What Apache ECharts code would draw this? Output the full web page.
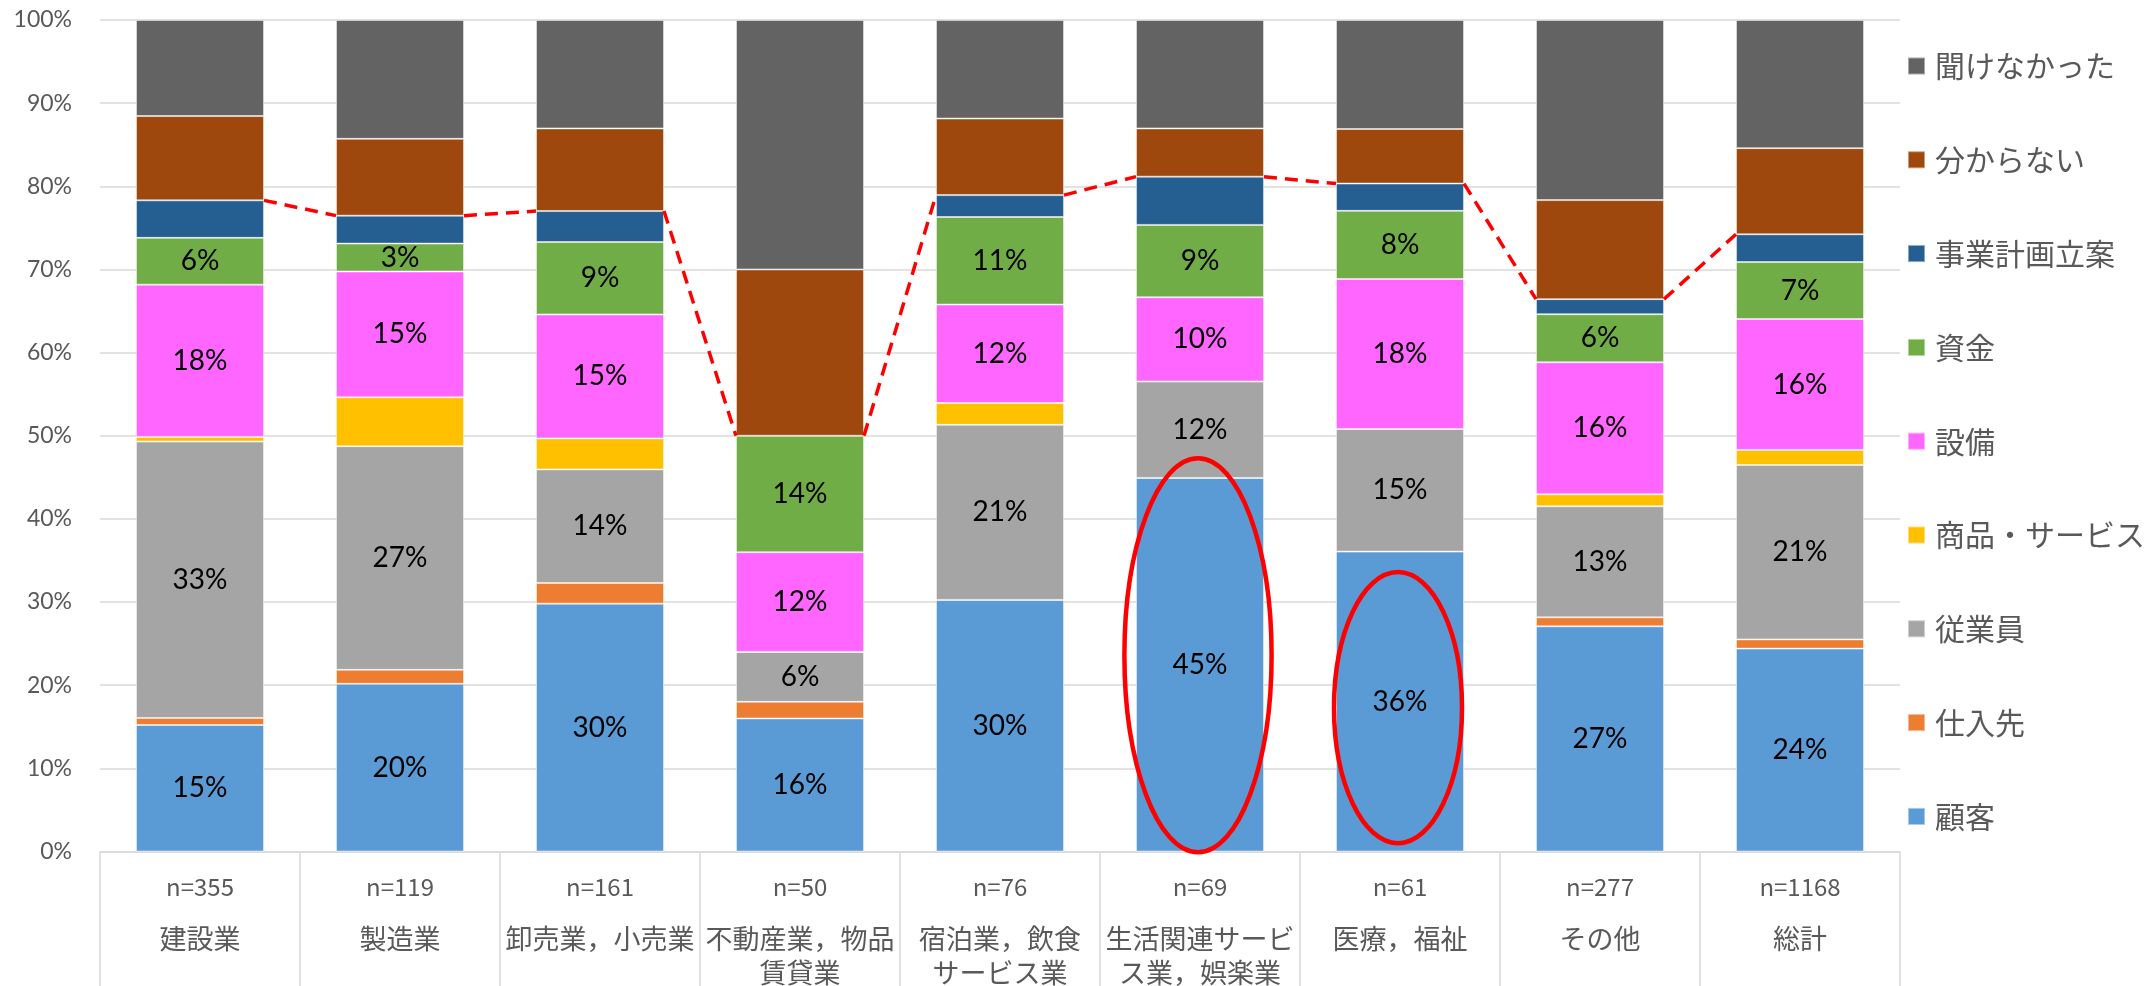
<!DOCTYPE html>
<html>
<head>
<meta charset="utf-8">
<script src="https://cdn.jsdelivr.net/npm/echarts@6/dist/echarts.min.js"></script>
<style>
  html, body { margin: 0; padding: 0; background: #ffffff; }
  #chart { width: 2156px; height: 986px; }
</style>
</head>
<body>
<div id="chart"></div>
<script>
// 業種別の回答内訳（構成比 %）
const categories = ['建設業', '製造業', '卸売業，小売業', '不動産業，物品\n賃貸業', '宿泊業，飲食\nサービス業', '生活関連サービ\nス業，娯楽業', '医療，福祉', 'その他', '総計'];
const sampleSizes = [355, 119, 161, 50, 76, 69, 61, 277, 1168];

const seriesNames = ['顧客', '仕入先', '従業員', '商品・サービス', '設備', '資金', '事業計画立案', '分からない', '聞けなかった'];

const customer   = [15.21, 20.17, 29.81, 16, 30.26, 44.93, 36.07, 27.08, 24.40];
const supplier   = [0.85, 1.68, 2.48, 2, 0, 0, 0, 1.08, 1.11];
const employee   = [33.24, 26.89, 13.66, 6, 21.05, 11.59, 14.75, 13.36, 20.98];
const product    = [0.56, 5.88, 3.73, 0, 2.63, 0, 0, 1.44, 1.80];
const equipment  = [18.31, 15.13, 14.91, 12, 11.84, 10.14, 18.03, 15.88, 15.75];
const funds      = [5.63, 3.36, 8.70, 14, 10.53, 8.70, 8.20, 5.78, 6.85];
const planning   = [4.51, 3.36, 3.73, 0, 2.63, 5.80, 3.28, 1.81, 3.34];
const unknown    = [10.14, 9.24, 9.94, 20, 9.21, 5.80, 6.56, 11.91, 10.36];
const notAsked   = [11.55, 14.29, 13.04, 30, 11.84, 13.04, 13.11, 21.66, 15.41];

const yTicks = [0, 10, 20, 30, 40, 50, 60, 70, 80, 90, 100];

// 強調する棒（顧客）：カテゴリ番号と囲む値の範囲
const highlightIndex = [5, 6];
const highlightRange = [[-0.1, 47.3], [1.0, 33.6]];

const seriesValues = [customer, supplier, employee, product, equipment, funds, planning, unknown, notAsked];
const colors = ['#5B9BD5', '#ED7D31', '#A5A5A5', '#FFC000', '#FF66FF', '#70AD47', '#255E91', '#9E480E', '#636363'];
const labelled = { '顧客': true, '従業員': true, '設備': true, '資金': true };

const BAR_RATIO = 0.64;
const CJK = '"Noto Sans CJK JP", "Noto Sans", sans-serif';
const LATIN = 'Lato, "Noto Sans", sans-serif';

// 事業計画立案までの積み上げ上端（系列線用）
const planTop = categories.map((_, i) => {
  let s = 0;
  for (let k = 0; k <= 6; k++) s += seriesValues[k][i];
  return s;
});
const seriesLineData = [];
for (let i = 0; i < categories.length - 1; i++) {
  seriesLineData.push([i, planTop[i], planTop[i + 1]]);
}

const barSeries = seriesNames.map((name, k) => ({
  name: name,
  type: 'bar',
  stack: 'total',
  barCategoryGap: '36%',
  data: seriesValues[k],
  itemStyle: { color: colors[k], borderColor: 'rgba(255,255,255,0.45)', borderWidth: 1 },
  label: {
    show: !!labelled[name],
    position: 'inside',
    formatter: p => Math.round(p.value) + '%',
    color: '#000000',
    fontFamily: LATIN,
    fontSize: 28
  },
  z: 2
}));

const lineSeries = {
  name: 'series-line',
  type: 'custom',
  data: seriesLineData,
  encode: { x: 0, y: 1 },
  clip: false,
  z: 5,
  renderItem: function (params, api) {
    const i = api.value(0);
    const p1 = api.coord([i, api.value(1)]);
    const p2 = api.coord([i + 1, api.value(2)]);
    const half = api.size([1, 0])[0] * BAR_RATIO / 2;
    return {
      type: 'line',
      shape: { x1: p1[0] + half, y1: p1[1], x2: p2[0] - half, y2: p2[1] },
      style: { stroke: '#FF0000', lineWidth: 3.5, lineDash: [13, 8] }
    };
  }
};

const ellipseSeries = {
  name: 'highlight',
  type: 'custom',
  data: highlightIndex.map((idx, j) => [idx, highlightRange[j][0], highlightRange[j][1], j === 0 ? 1.15 : 1.0]),
  encode: { x: 0, y: 1 },
  clip: false,
  z: 6,
  renderItem: function (params, api) {
    const idx = api.value(0);
    const lo = api.coord([idx, api.value(1)]);
    const hi = api.coord([idx, api.value(2)]);
    const half = api.size([1, 0])[0] * BAR_RATIO / 2;
    return {
      type: 'ellipse',
      shape: { cx: lo[0] - 2, cy: (lo[1] + hi[1]) / 2, rx: half * api.value(3), ry: (lo[1] - hi[1]) / 2 },
      style: { fill: 'none', stroke: '#FF0000', lineWidth: 4.5 }
    };
  }
};

const chart = echarts.init(document.getElementById('chart'), null, { renderer: 'canvas' });
chart.setOption({
  animation: false,
  backgroundColor: '#ffffff',
  grid: { left: 100, right: 256, top: 20, bottom: 133, containLabel: false },
  legend: {
    orient: 'vertical',
    left: 1902,
    top: 46,
    data: seriesNames.slice().reverse(),
    icon: 'rect',
    itemWidth: 17,
    itemHeight: 17,
    itemGap: 63.8,
    selectedMode: false,
    textStyle: { color: '#595959', fontFamily: CJK, fontSize: 30, lineHeight: 30, padding: [0, 0, 0, 5] }
  },
  xAxis: {
    type: 'category',
    data: categories,
    axisLine: { show: true, lineStyle: { color: '#D9D9D9', width: 1.5 } },
    axisTick: { show: true, interval: 0, length: 140, lineStyle: { color: '#D9D9D9', width: 1.5 } },
    axisLabel: {
      interval: 0,
      margin: 0,
      formatter: function (value, index) {
        const lines = value.split('\n').map(s => '{c|' + s + '}');
        return '{n|n=' + sampleSizes[index] + '}\n' + lines.join('\n');
      },
      rich: {
        n: { fontFamily: CJK, fontSize: 24, lineHeight: 70, color: '#595959' },
        c: { fontFamily: CJK, fontSize: 27, lineHeight: 34, color: '#595959' }
      }
    },
    splitLine: { show: false }
  },
  yAxis: {
    type: 'value',
    min: yTicks[0],
    max: yTicks[yTicks.length - 1],
    interval: yTicks[1] - yTicks[0],
    axisLine: { show: false },
    axisTick: { show: false },
    axisLabel: { formatter: '{value}%', color: '#595959', fontFamily: LATIN, fontSize: 23, margin: 28 },
    splitLine: { lineStyle: { color: '#D9D9D9', width: 1.5 } }
  },
  series: barSeries.concat([lineSeries, ellipseSeries])
});
</script>
</body>
</html>
